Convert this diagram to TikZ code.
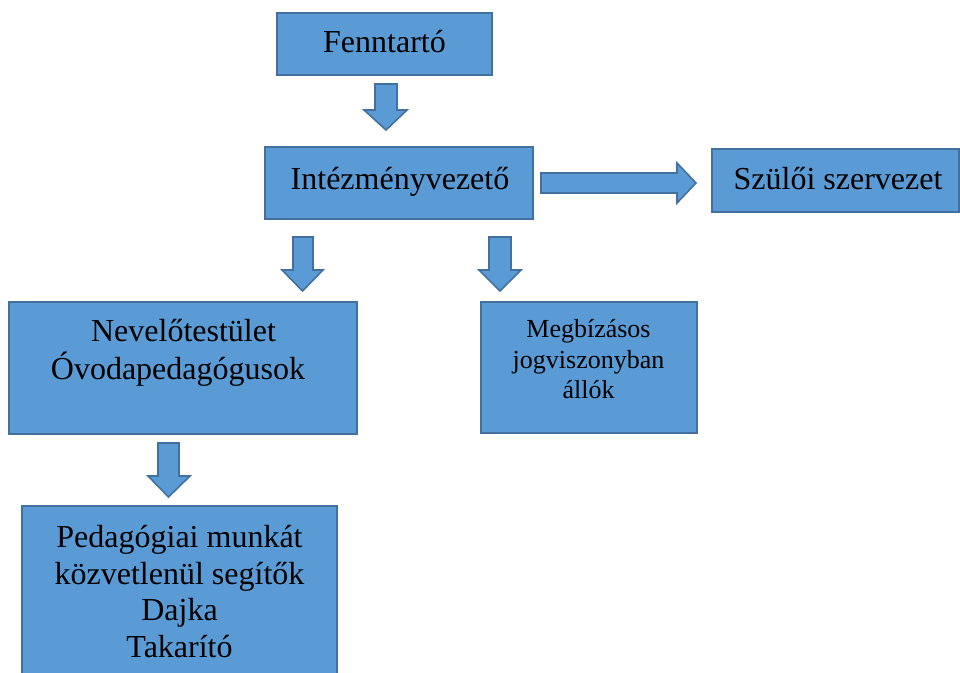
\documentclass[tikz,border=0pt]{standalone}
\usepackage{fontspec}
\setmainfont{Liberation Serif}
\definecolor{boxfill}{HTML}{5B9BD5}
\definecolor{boxline}{HTML}{41719C}
\begin{document}
\begin{tikzpicture}[x=0.75pt,y=-0.75pt,
  box/.style={draw=boxline,fill=boxfill,line width=1.3pt},
  txt/.style={font=\fontsize{24}{28.5}\selectfont,anchor=base,inner sep=0pt,align=center},
  stxt/.style={font=\fontsize{19.5}{23}\selectfont,anchor=base,inner sep=0pt,align=center},
  barrow/.style={draw=boxline,fill=boxfill,line width=1.2pt,line join=miter}]
\useasboundingbox (0,0) rectangle (960,673);
\clip (0,0) rectangle (960,673);
% boxes
\draw[box] (277,13) rectangle (492,75) coordinate (fenBR);
\coordinate (fen) at (384.5,44);
\draw[box] (265,147) rectangle (533,219);
\coordinate (int) at (399,183);
\draw[box] (712,149) rectangle (959,212);
\draw[box] (9,302) rectangle (357,434);
\draw[box] (481,302) rectangle (697,433);
\draw[box] (22,506) rectangle (337,700);
% texts
\node[txt] (tFen) at (384.5,53) {Fenntartó};
\node[txt] (tInt) at (400,190) {Intézményvezető};
\node[txt] (tSzu) at (838,190) {Szülői szervezet};
\node[txt] (tNev1) at (183.5,342) {Nevelőtestület};
\node[txt] (tNev2) at (178,380) {Óvodapedagógusok};
\node[stxt] (tMeg1) at (588.5,338) {Megbízásos};
\node[stxt] (tMeg2) at (588.5,369) {jogviszonyban};
\node[stxt] (tMeg3) at (588.5,398) {állók};
\node[txt] (tPed1) at (179.5,547) {Pedagógiai munkát};
\node[txt] (tPed2) at (179.5,584) {közvetlenül segítők};
\node[txt] (tPed3) at (179.5,620) {Dajka};
\node[txt] (tPed4) at (179.5,657) {Takarító};
% block arrows (down): shaft x1..x2, top y0, shaft end y1, head x3..x4, tip y2
\draw[barrow] (375,84) -- (397,84) -- (397,110) -- (407,110) -- (386,130) -- (364,110) -- (375,110) -- cycle;
\draw[barrow] (293,237) -- (313,237) -- (313,270) -- (323,270) -- (302.5,291) -- (282,270) -- (293,270) -- cycle;
\draw[barrow] (489,237) -- (511,237) -- (511,270) -- (521,270) -- (500,291) -- (479,270) -- (489,270) -- cycle;
\draw[barrow] (158,443) -- (179,443) -- (179,476) -- (190,476) -- (168.5,497) -- (148,476) -- (158,476) -- cycle;
% right arrow
\draw[barrow] (541,173) -- (677,173) -- (677,163) -- (696,183) -- (677,203) -- (677,193) -- (541,193) -- cycle;
\end{tikzpicture}
\end{document}
